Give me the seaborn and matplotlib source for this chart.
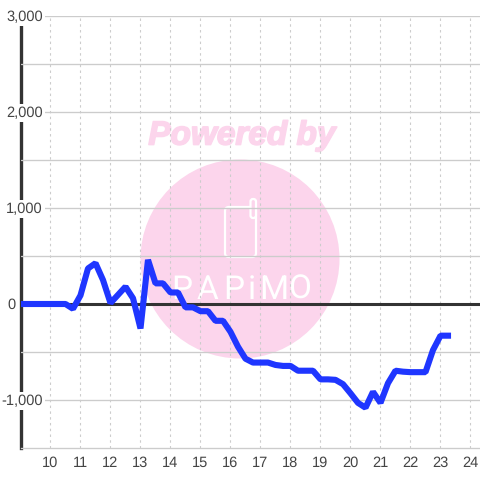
import matplotlib
matplotlib.use('Agg')
import matplotlib.pyplot as plt
import matplotlib.patheffects as pe
import seaborn as sns
import pandas as pd
from matplotlib.patches import Circle, FancyBboxPatch
from matplotlib.transforms import IdentityTransform

# quarter hours from 9:00 to 23:15
values = [0, 0, 0, 0, 0, 0, 0, -50, 90,
          370, 425, 250, 10, 95, 180, 60, -255, 460, 215, 215, 120, 120, -35, -35, -75,
          -75, -175, -175, -290, -445, -570, -610, -610, -610, -635, -645, -645, -695, -695, -695, -785,
          -785, -790, -835, -930, -1030, -1080, -915, -1030, -825, -695,
          -705, -710, -710, -710, -480, -330, -330]
hours = [9 + i * 0.25 for i in range(len(values))]

x_ticks = list(range(10, 25))
y_major = [-1000, 0, 1000, 2000, 3000]
y_labels = ['-1,000', '0', '1,000', '2,000', '3,000']
y_label_right = [43, 16, 43, 43, 43]
y_minor = [-500, 500, 1500, 2500]

PINK = '#fcd5ec'
GRID = '#cccccc'
DARK = '#333333'
TEXT = '#444444'

sns.set_style('white')
plt.rcParams['font.family'] = ['Liberation Sans', 'DejaVu Sans']
plt.rcParams['text.hinting'] = 'none'

df = pd.DataFrame({'hour': hours, 'value': values})

fig = plt.figure(figsize=(4.8, 4.8), dpi=100)
ax = fig.add_axes([20.5 / 480, 32 / 480, 459.5 / 480, 432 / 480])
ax.patch.set_alpha(0)
ax.set_zorder(5)

# watermark behind the axes, pixel coordinates
fig.patches.append(Circle((240, 221), 99.5, transform=IdentityTransform(), color=PINK, lw=0))
fig.patches.append(FancyBboxPatch((225, 223), 31, 50, boxstyle='round,pad=0,rounding_size=4',
                                  transform=IdentityTransform(), fc='none', ec='white', lw=1.6))
fig.patches.append(FancyBboxPatch((250.5, 262), 5.5, 19, boxstyle='round,pad=0,rounding_size=2.5',
                                  transform=IdentityTransform(), fc=PINK, ec='white', lw=1.6))
fig.text(242 / 480, 344 / 480, 'Powered by', color=PINK, fontsize=24, fontweight='bold',
         fontstyle='italic', ha='center', va='center', family=['Liberation Sans'],
         path_effects=[pe.withStroke(linewidth=1.2, foreground=PINK)])
for ch, px in zip('PAPiMO', [182, 207, 234, 252, 274, 300]):
    fig.text(px / 480, 190 / 480, ch, color='white', fontsize=24, ha='center', va='center',
             family=['Roboto'])

sns.lineplot(data=df, x='hour', y='value', ax=ax, color='#1f36ff', linewidth=4.4,
             solid_capstyle='projecting', solid_joinstyle='bevel', zorder=4, errorbar=None)

ax.set_xlim(9, 24.317)
ax.set_ylim(-1500, 3000)
ax.set_xlabel('')
ax.set_ylabel('')
ax.set_axisbelow(True)

ax.set_xticks(x_ticks)
ax.set_yticks(y_major)
ax.set_yticklabels([])
ax.set_yticks(y_minor, minor=True)
ax.tick_params(axis='x', length=0, pad=5.5, labelsize=10.5, labelcolor=TEXT)
ax.tick_params(axis='y', which='both', length=0)
ax.grid(True, axis='y', which='both', color=GRID, lw=0.95, ls='-')
ax.grid(True, axis='x', color=GRID, lw=0.8, ls=(0, (2.2, 3)))

for side in ['top', 'right']:
    ax.spines[side].set_visible(False)
ax.spines['bottom'].set_color(GRID)
ax.spines['bottom'].set_linewidth(0.95)
ax.spines['left'].set_color(DARK)
ax.spines['left'].set_linewidth(2.4)
ax.spines['left'].set_zorder(0.4)

ax.axhline(0, color=DARK, lw=2.2, zorder=1)

# y labels sit on top of the axis line with a white backing
for v, lab, right in zip(y_major, y_labels, y_label_right):
    ax.annotate(lab, xy=(0, v), xycoords=ax.get_yaxis_transform(),
                xytext=(right - 20.5, -1), textcoords='offset pixels',
                ha='right', va='center', fontsize=10.5, color=TEXT, zorder=3,
                bbox=dict(fc='white', ec='none', pad=1.2))

fig.savefig('out.png', dpi=100, facecolor='white')
